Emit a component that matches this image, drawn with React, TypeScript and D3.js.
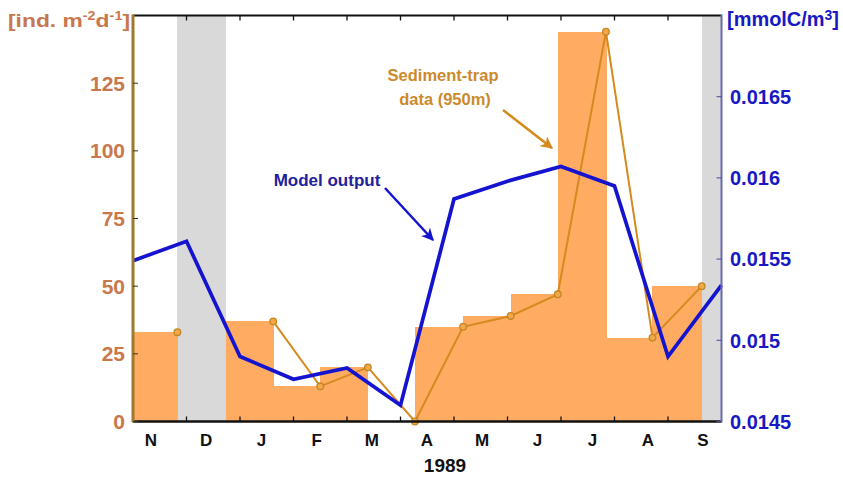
import React from "react";
import * as d3 from "d3";

// ---- data ----
const monthLabels = ["N", "D", "J", "F", "M", "A", "M", "J", "J", "A", "S"];
const leftTicks = [0, 25, 50, 75, 100, 125];
const rightTicks = [0.0145, 0.015, 0.0155, 0.016, 0.0165];

// sediment-trap sampling periods (in month units from 1 Nov 1988) and flux
const trapStart = [-0.05, 0.83, 1.74, 2.62, 3.5, 4.39, 5.27, 6.17, 7.06, 7.94, 8.84, 9.71];
const trapEnd = [0.83, 1.74, 2.62, 3.5, 4.39, 5.27, 6.17, 7.06, 7.94, 8.84, 9.71, 10.63];
const trapFlux: (number | null)[] = [33, null, 37, 13, 20, 0, 35, 39, 47, 144, 31, 50];

// periods without trap data
const gapStart = [0.83, 10.63];
const gapEnd = [1.74, 11];

// model output at month boundaries
const modelMonth = [0, 1, 2, 3, 4, 5, 6, 7, 8, 9, 10, 11];
const modelValue = [0.01549, 0.01561, 0.0149, 0.01476, 0.01483, 0.0146, 0.01587, 0.01598, 0.01607, 0.01595, 0.0149, 0.01534];

const W = 843;
const H = 477;
const L = 133;
const R = 721.5;
const T = 15.5;
const B = 421.5;

const FONT = "'Liberation Sans', Arial, sans-serif";
const BAR = "#FFAB62";
const TRAP = "#D68A1E";
const BLUE = "#1414D0";
const LEFTC = "#C8784C";
const RIGHTC = "#1818C4";
const GREY = "#D9D9D9";

export default function App() {
  const x = d3.scaleLinear().domain([0, 11]).range([L, R]);
  const yL = d3.scaleLinear().domain([0, 150]).range([B, T]);
  const yR = d3.scaleLinear().domain([0.0145, 0.017]).range([B, T]);
  const xLab = d3
    .scalePoint<number>()
    .domain(monthLabels.map((_, i) => i))
    .range([151, 703]);

  const trapPts = trapEnd.map((e, i) => ({ x: e, v: trapFlux[i] }));
  const trapLine = d3
    .line<{ x: number; v: number | null }>()
    .defined((d) => d.v !== null)
    .x((d) => x(d.x))
    .y((d) => yL(d.v as number));

  const modelLine = d3
    .line<number>()
    .x((_, i) => x(modelMonth[i]))
    .y((d) => yR(d));

  const monthTicks = d3.range(1, 11);

  return (
    <svg
      width={W}
      height={H}
      style={{ position: "absolute", left: 0, top: 0, background: "#fff" }}
      fontFamily={FONT}
    >
      <defs>
        <clipPath id="plot">
          <rect x={L} y={T} width={R - L} height={B - T} />
        </clipPath>
        <marker id="arB" viewBox="0 0 10 10" refX="9" refY="5" markerWidth="5" markerHeight="5" orient="auto">
          <path d="M0,0 L10,5 L0,10 L3,5 z" fill={BLUE} />
        </marker>
        <marker id="arO" viewBox="0 0 10 10" refX="9" refY="5" markerWidth="5" markerHeight="5" orient="auto">
          <path d="M0,0 L10,5 L0,10 L3,5 z" fill={TRAP} />
        </marker>
      </defs>

      <g clipPath="url(#plot)" shapeRendering="crispEdges">
        {gapStart.map((s, i) => (
          <rect key={"g" + i} x={x(s)} y={T} width={x(gapEnd[i]) - x(s)} height={B - T} fill={GREY} />
        ))}
        {trapFlux.map((v, i) =>
          v === null ? null : (
            <rect
              key={"b" + i}
              x={x(trapStart[i])}
              y={yL(v)}
              width={x(trapEnd[i]) - x(trapStart[i]) + 0.6}
              height={B - yL(v)}
              fill={BAR}
            />
          )
        )}
      </g>

      {/* trap line */}
      <path d={trapLine(trapPts) || ""} fill="none" stroke={TRAP} strokeWidth={2} />
      {trapPts.map((p, i) =>
        p.v === null ? null : (
          <circle key={"c" + i} cx={x(p.x)} cy={yL(p.v)} r={3.3} fill="#F2A848" stroke="#C48624" strokeWidth={1.3} />
        )
      )}

      {/* model line */}
      <path d={modelLine(modelValue) || ""} fill="none" stroke={BLUE} strokeWidth={3.7} strokeLinejoin="miter" />

      {/* axes */}
      <line x1={L} x2={R} y1={T} y2={T} stroke="#111" strokeWidth={2} />
      <line x1={L} x2={R} y1={B} y2={B} stroke="#111" strokeWidth={2.5} />
      {monthTicks.map((m) => (
        <g key={"t" + m}>
          <line x1={x(m)} x2={x(m)} y1={T} y2={T + 5} stroke="#111" strokeWidth={1.3} />
          <line x1={x(m)} x2={x(m)} y1={B} y2={B - 5} stroke="#111" strokeWidth={1.3} />
        </g>
      ))}
      <line x1={L} x2={L} y1={T - 1} y2={B + 1} stroke="#9C7C2C" strokeWidth={3} />
      <line x1={R} x2={R} y1={T - 1} y2={B + 1} stroke="#6A6AB0" strokeWidth={2} />

      {leftTicks.map((t) => (
        <g key={"l" + t}>
          <line x1={L} x2={L + 5} y1={yL(t)} y2={yL(t)} stroke="#333" strokeWidth={1} />
          <text x={125} y={yL(t)} dy="0.36em" textAnchor="end" fontSize={21} fontWeight="bold" fill={LEFTC}>
            {t}
          </text>
        </g>
      ))}
      {rightTicks.map((t) => (
        <g key={"r" + t}>
          <line x1={R - 5} x2={R} y1={yR(t)} y2={yR(t)} stroke="#4848A0" strokeWidth={1} />
          <text x={730} y={yR(t)} dy="0.36em" textAnchor="start" fontSize={20} fontWeight="bold" fill={RIGHTC}>
            {t}
          </text>
        </g>
      ))}

      {monthLabels.map((m, i) => (
        <text key={"m" + i} x={xLab(i)} y={446} textAnchor="middle" fontSize={17} fontWeight="bold" fill="#111">
          {m}
        </text>
      ))}
      <text x={445} y={472} textAnchor="middle" fontSize={19} fontWeight="bold" fill="#111">
        1989
      </text>

      {/* axis titles */}
      <text x={8} y={27} fontSize={19} fontWeight="bold" fill={LEFTC} textLength={122} lengthAdjust="spacingAndGlyphs">
        [ind. m
        <tspan fontSize={12} dy={-7}>-2</tspan>
        <tspan dy={7}>d</tspan>
        <tspan fontSize={12} dy={-7}>-1</tspan>
        <tspan dy={7}>]</tspan>
      </text>
      <text x={727} y={26} fontSize={20} fontWeight="bold" fill={RIGHTC} textLength={112} lengthAdjust="spacingAndGlyphs">
        [mmolC/m
        <tspan fontSize={14} dy={-6}>3</tspan>
        <tspan dy={6}>]</tspan>
      </text>

      {/* annotations */}
      <text x={327} y={186} textAnchor="middle" fontSize={17} fontWeight="bold" fill="#22229C">
        Model output
      </text>
      <line x1={385} y1={188} x2={433} y2={240} stroke={BLUE} strokeWidth={2.5} markerEnd="url(#arB)" />
      <text x={443} y={81} textAnchor="middle" fontSize={16.5} fontWeight="bold" fill="#CC8A2C">
        Sediment-trap
      </text>
      <text x={445} y={105} textAnchor="middle" fontSize={16.5} fontWeight="bold" fill="#CC8A2C">
        data (950m)
      </text>
      <line x1={503} y1={110} x2={552} y2={148} stroke={TRAP} strokeWidth={2.5} markerEnd="url(#arO)" />
    </svg>
  );
}
